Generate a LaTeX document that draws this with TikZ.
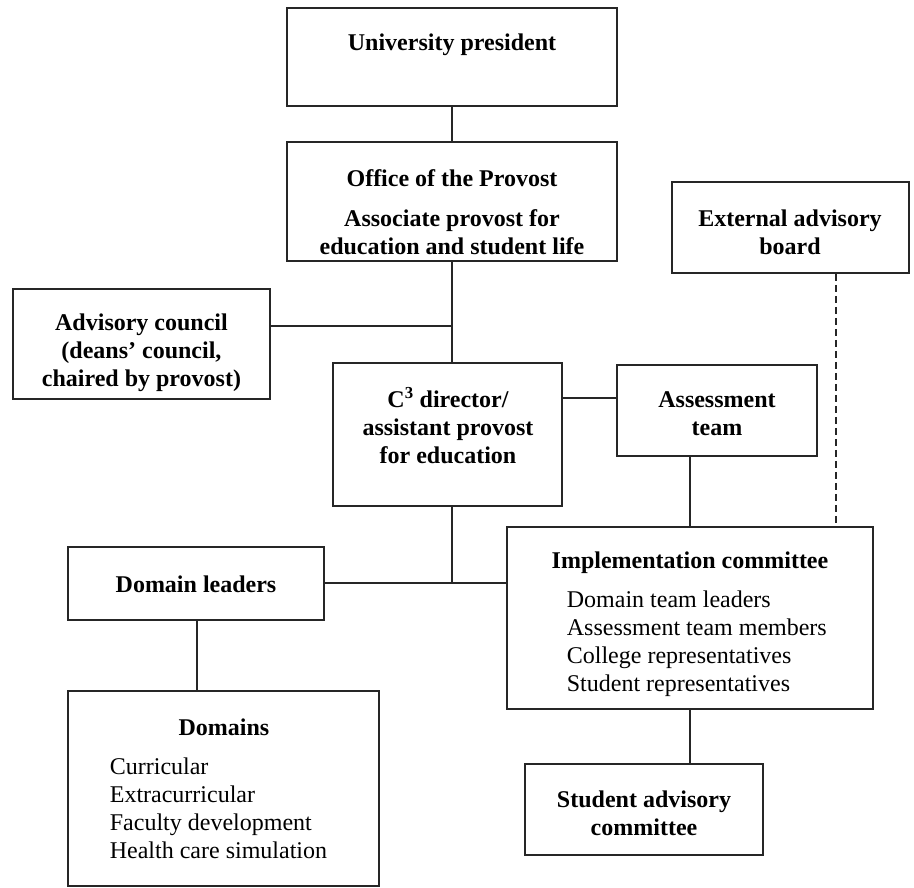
\documentclass[tikz,border=0pt]{standalone}
\usepackage{fontspec}
\setmainfont{Liberation Serif}
\usepackage{tikz}

\tikzset{
  boxtext/.style={align=center, inner sep=0pt, font=\fontsize{24}{28}\selectfont\bfseries},
  listtext/.style={align=left, anchor=west, inner sep=0pt, font=\fontsize{24}{28}\selectfont}
}

\begin{document}
\begin{tikzpicture}[x=1pt, y=-1pt, line width=1.7pt]
   \useasboundingbox (0,0) rectangle (914,888);
   \begin{scope}[every node/.style={rectangle,draw=black!85,inner sep=0pt}]
    \node[minimum width=330pt, minimum height=98pt] (pres) at (452,57) {};
    \node[minimum width=330pt, minimum height=119pt] (provost) at (452,201.5) {};
    \node[minimum width=237pt, minimum height=91pt] (external) at (790.5,227.5) {};
    \node[minimum width=257pt, minimum height=110pt] (advisory) at (141.5,344) {};
    \node[minimum width=229pt, minimum height=143pt] (director) at (447.5,434.5) {};
    \node[minimum width=200pt, minimum height=91pt] (assess) at (717,410.5) {};
    \node[minimum width=256pt, minimum height=73pt] (leaders) at (196,583.5) {};
    \node[minimum width=366pt, minimum height=182pt] (implem) at (690,618) {};
    \node[minimum width=311pt, minimum height=195pt] (domains) at (223.5,788.5) {};
    \node[minimum width=238pt, minimum height=91pt] (students) at (644,809.5) {};
   \end{scope}
   % box texts
   \node[boxtext] (pres text) at (452,45) {University president};
   \node[boxtext] (provost text) at (452,212) {Office of the Provost\\[12pt]Associate provost for\\education and student life};
   \node[boxtext] (external text) at (790,232) {External advisory\\board};
   \node[boxtext] (advisory text) at (141.5,353) {Advisory council\\(deans’ council,\\chaired by provost)};
   \node[boxtext] (director text) at (448,426) {C\textsuperscript{3} director/\\assistant provost\\for education};
   \node[boxtext] (assess text) at (717,414) {Assessment\\team};
   \node[boxtext] (leaders text) at (196,584) {Domain leaders};
   \node[boxtext] (implem text) at (690,563) {Implementation committee};
   \node[listtext] (implem list) at (566,644) {Domain team leaders\\Assessment team members\\College representatives\\Student representatives};
   \node[boxtext] (domains text) at (224,727) {Domains};
   \node[listtext] (domains list) at (109,808) {Curricular\\Extracurricular\\Faculty development\\Health care simulation};
   \node[boxtext] (students text) at (644,813) {Student advisory\\committee};
   % junctions
   \coordinate (j1) at (452,326);
   \coordinate (j2) at (600,398);
   \coordinate (j3) at (452,583);
   \coordinate (j4) at (836,300);
   \begin{scope}[draw=black!85]
    \draw (pres) -- (provost);
    \draw (provost.south) -- (provost.south |- director.north);
    \draw (advisory.east |- j1) -- (j1);
    \draw (director.east |- j2) -- (assess.west |- j2);
    \draw (director.south -| j3) -- (j3);
    \draw (leaders.east |- j3) -- (implem.west |- j3);
    \draw (assess.south -| implem.north) -- (implem.north);
    \draw[dash pattern=on 7pt off 4pt] (external.south -| j4) -- (implem.north -| j4);
    \draw (leaders.south -| 197,0) -- (domains.north -| 197,0);
    \draw (implem.south) -- (implem.south |- students.north);
   \end{scope}
\end{tikzpicture}
\end{document}
